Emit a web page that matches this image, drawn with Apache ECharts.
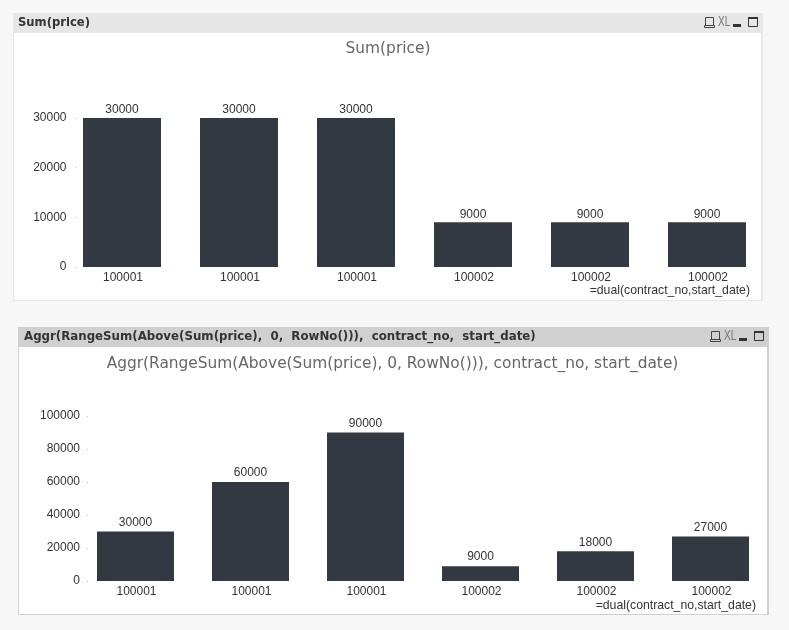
<!DOCTYPE html>
<html><head><meta charset="utf-8">
<style>html,body{margin:0;padding:0;background:#f7f7f7}#c{width:789px;height:630px}</style>
<script src="https://cdn.jsdelivr.net/npm/echarts@6/dist/echarts.min.js"></script>
</head><body><div id="c"></div>
<script>
const categories = ['100001','100001','100001','100002','100002','100002'];
const sumPrice = [30000,30000,30000,9000,9000,9000];
const aggrRange = [30000,60000,90000,9000,18000,27000];
const titleTop = 'Sum(price)';
const titleBottom = 'Aggr(RangeSum(Above(Sum(price), 0, RowNo())), contract_no, start_date)';
const captionBottom = 'Aggr(RangeSum(Above(Sum(price),  0,  RowNo())),  contract_no,  start_date)';
const dimText = '=dual(contract_no,start_date)';
const BAR = '#333942', UI = 'Liberation Sans', TF = 'DejaVu Sans';

function panel(x,y,w,h,capFill,border,caption,capSize,capX){
  const els=[
    {type:'rect',z:-10,shape:{x:x-1,y:y,width:w+2,height:h+1},style:{fill:border}},
    {type:'rect',z:-9,shape:{x:x,y:y+20,width:w-1,height:h-20},style:{fill:'#fff'}},
    {type:'rect',z:-9,shape:{x:x,y:y,width:w-1,height:20},style:{fill:capFill}},
    {type:'text',z:5,x:capX,y:y+10,style:{text:caption,font:'bold '+capSize+'px "'+TF+'"',fill:'#333',textVerticalAlign:'middle'}},
  ];
  const r=x+w;
  els.push(
    {type:'rect',z:5,shape:{x:r-56.5,y:y+4.5,width:8,height:8},style:{fill:'none',stroke:'#444',lineWidth:1}},
    {type:'rect',z:5,shape:{x:r-57.5,y:y+12.5,width:10,height:2},style:{fill:'none',stroke:'#444',lineWidth:1}},
    {type:'text',z:5,x:r-44,y:y+9,scaleX:0.72,style:{text:'XL',font:'14px "'+UI+'"',fill:'#777',textVerticalAlign:'middle'}},
    {type:'rect',z:5,shape:{x:r-29,y:y+11,width:8,height:3},style:{fill:'#333'}},
    {type:'rect',z:5,shape:{x:r-13.5,y:y+4.5,width:9,height:9},style:{fill:'none',stroke:'#333',lineWidth:1}},
    {type:'rect',z:5,shape:{x:r-14,y:y+4,width:10,height:2},style:{fill:'#333'}}
  );
  return els;
}
const xAxisOf=i=>({gridIndex:i,type:'category',data:categories,boundaryGap:true,
  axisLine:{show:false},axisTick:{show:false},
  axisLabel:{color:'#333',fontFamily:UI,fontSize:12,margin:5,interval:0,padding:[0,0,0,2]}});
const yAxisOf=(i,max,interval,offset,margin)=>({gridIndex:i,type:'value',min:0,max,interval,offset,
  axisLine:{show:false},splitLine:{show:false},
  axisTick:{show:true,length:1,lineStyle:{color:'#bbb'}},
  axisLabel:{color:'#333',fontFamily:UI,fontSize:12,margin,padding:[4,0,0,0],formatter:v=>String(v)}});
const seriesOf=(i,data,w,d)=>({type:'bar',xAxisIndex:i,yAxisIndex:i,data,barWidth:w,
  itemStyle:{color:BAR},
  label:{show:true,position:'top',distance:d,color:'#333',fontFamily:UI,fontSize:12}});

const chart=echarts.init(document.getElementById('c'),null,{renderer:'canvas'});
chart.setOption({
  backgroundColor:'#f7f7f7',animation:false,
  title:[
    {text:titleTop,left:383,top:36,textAlign:'center',textStyle:{color:'#666',fontFamily:TF,fontSize:15.4,fontWeight:'normal'}},
    {text:titleBottom,left:387.5,top:351,textAlign:'center',textStyle:{color:'#666',fontFamily:TF,fontSize:15.4,fontWeight:'normal'}}
  ],
  grid:[
    {left:63.5,top:118,width:702,height:149},
    {left:78,top:416,width:690,height:165}
  ],
  xAxis:[xAxisOf(0),xAxisOf(1)],
  yAxis:[yAxisOf(0,30000,10000,-13,10),yAxisOf(1,100000,20000,-10,8)],
  series:[seriesOf(0,sumPrice,78,2),seriesOf(1,aggrRange,77,3)],
  graphic:{elements:[
    ...panel(14,13,748,287,'#e6e6e6','#e8e8e8',titleTop,11.6,18),
    ...panel(19,327,749,287,'#d0d0d0','#d0d0d0',captionBottom,11.8,24),
    {type:'text',z:5,x:750,y:291,style:{text:dimText,font:'12.25px "'+UI+'"',fill:'#333',textAlign:'right',textVerticalAlign:'middle'}},
    {type:'text',z:5,x:756,y:606,style:{text:dimText,font:'12.25px "'+UI+'"',fill:'#333',textAlign:'right',textVerticalAlign:'middle'}}
  ]}
});
</script></body></html>
